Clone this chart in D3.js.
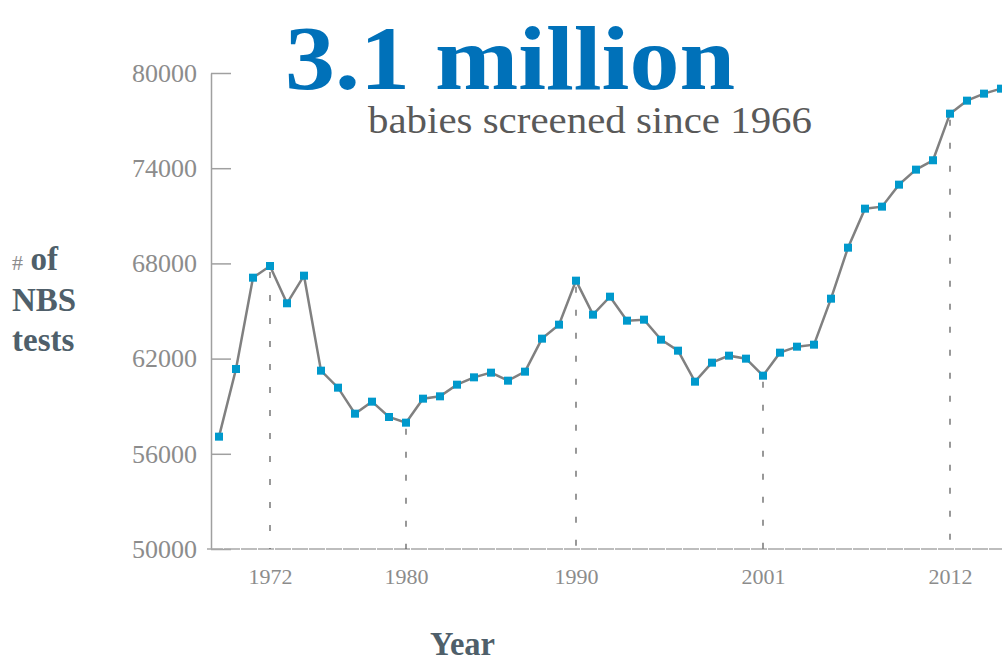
<!DOCTYPE html>
<html lang="en">
<head>
  <meta charset="UTF-8">
  <title>NBS tests per year</title>
  <script src="https://d3js.org/d3.v7.min.js"></script>
  <style>
    body { margin: 0; background: #fff; }
    svg { display: block; font-family: "Liberation Serif", "DejaVu Serif", serif; }
  </style>
</head>
<body>
  <div id="chart"></div>

  <script>
    // data
    const years = d3.range(1969, 2016);
    const tests = [
      57080, 61345, 67100, 67836, 65486, 67227, 61240, 60168, 58529, 59286,
      58320, 57962, 59475, 59622, 60357, 60819, 61114, 60609, 61177, 63257,
      64139, 66912, 64769, 65903, 64391, 64454, 63193, 62500, 60546, 61744,
      62185, 61996, 60924, 62374, 62752, 62878, 65777, 68992, 71450, 71577,
      72963, 73909, 74500, 77438, 78257, 78699, 79013
    ];
    const markedYears = [1972, 1980, 1990, 2001, 2012];
    const yTicks = [50000, 56000, 62000, 68000, 74000, 80000];

    const data = years.map((y, i) => ({ year: y, value: tests[i] }));

    const width = 1002, height = 662;
    const svg = d3.select("#chart").append("svg")
      .attr("width", width)
      .attr("height", height);

    const x = d3.scaleLinear().domain([1969, 2015]).range([219, 1001]);
    const y = d3.scaleLinear().domain([50000, 80000]).range([549, 73]);

    // title
    svg.append("text")
      .attr("x", 285).attr("y", 89)
      .attr("textLength", 450).attr("lengthAdjust", "spacingAndGlyphs")
      .attr("font-size", 92).attr("font-weight", "bold")
      .attr("fill", "#0071b9")
      .text("3.1 million");

    svg.append("text")
      .attr("x", 368).attr("y", 133)
      .attr("textLength", 444).attr("lengthAdjust", "spacingAndGlyphs")
      .attr("font-size", 38)
      .attr("fill", "#595959")
      .text("babies screened since 1966");

    // y axis
    const yAxis = d3.axisLeft(y).tickValues(yTicks).tickFormat(d3.format("d"))
      .tickSize(0).tickPadding(14);
    const gy = svg.append("g").attr("transform", "translate(211,0)").call(yAxis);
    gy.select(".domain").attr("stroke", "#a0a0a0").attr("stroke-width", 1.5);
    gy.selectAll(".tick text")
      .attr("font-family", "Liberation Serif, serif")
      .attr("font-size", 26).attr("fill", "#8c8c8c");
    gy.selectAll(".tick").append("line")
      .attr("x1", 0).attr("x2", 20)
      .attr("stroke", "#a0a0a0").attr("stroke-width", 1.5);

    // x axis
    const xAxis = d3.axisBottom(x).tickValues(markedYears).tickFormat(d3.format("d"))
      .tickSize(0).tickPadding(19);
    const gx = svg.append("g").attr("transform", "translate(0,549)").call(xAxis);
    gx.select(".domain").remove();
    gx.selectAll(".tick text")
      .attr("font-family", "Liberation Serif, serif")
      .attr("font-size", 22).attr("fill", "#8c8c8c");
    gx.append("line")
      .attr("x1", 207).attr("x2", width)
      .attr("stroke", "#a8a8a8").attr("stroke-width", 1.5)
      .attr("stroke-dasharray", "16,1");

    // dashed drop lines
    svg.append("g").selectAll("line")
      .data(data.filter(d => markedYears.includes(d.year)))
      .join("line")
      .attr("x1", d => x(d.year)).attr("x2", d => x(d.year))
      .attr("y1", d => y(d.value) + 6).attr("y2", 549)
      .attr("stroke", "#555").attr("stroke-width", 1.2)
      .attr("stroke-dasharray", "6,17");

    // line
    const line = d3.line().x(d => x(d.year)).y(d => y(d.value));
    svg.append("path")
      .attr("fill", "none")
      .attr("stroke", "#808080")
      .attr("stroke-width", 2.5)
      .attr("d", line(data));

    svg.append("g").selectAll("rect")
      .data(data)
      .join("rect")
      .attr("x", d => x(d.year) - 4).attr("y", d => y(d.value) - 4)
      .attr("width", 8).attr("height", 8)
      .attr("fill", "#0099cc");

    // axis titles
    const lab = svg.append("g").attr("fill", "#4f5f6a").attr("font-weight", "bold").attr("font-size", 33);
    lab.append("text").attr("x", 12).attr("y", 270)
      .call(t => t.append("tspan").attr("font-weight", "normal").attr("font-size", 22).attr("fill", "#8c8c8c").text("# "))
      .call(t => t.append("tspan").attr("dx", 2).text("of"));
    lab.append("text").attr("x", 12).attr("y", 311).text("NBS");
    lab.append("text").attr("x", 12).attr("y", 351).text("tests");

    svg.append("text")
      .attr("x", 430).attr("y", 655)
      .attr("textLength", 65).attr("lengthAdjust", "spacingAndGlyphs")
      .attr("font-size", 33).attr("font-weight", "bold")
      .attr("fill", "#4f5f6a")
      .text("Year");
  </script>
</body>
</html>
